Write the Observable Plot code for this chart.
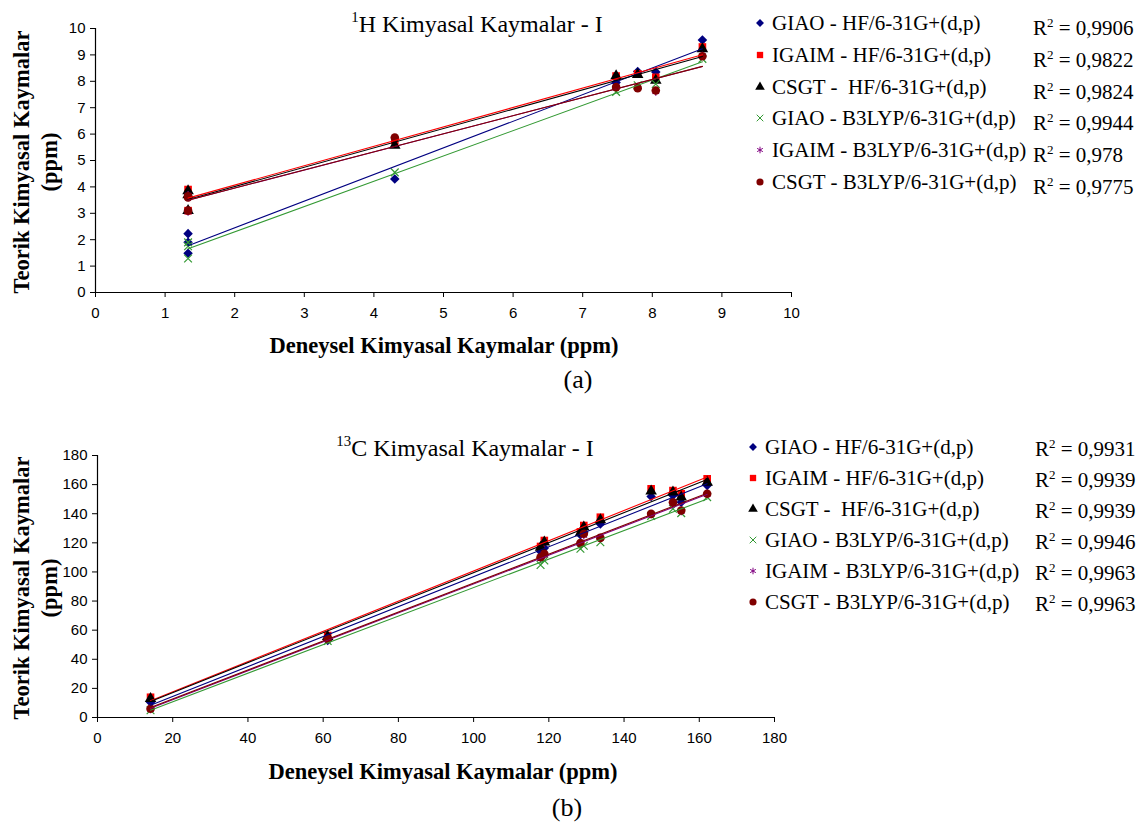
<!DOCTYPE html>
<html><head><meta charset="utf-8">
<script src="https://cdn.jsdelivr.net/npm/d3@7"></script>
<script src="https://cdn.jsdelivr.net/npm/@observablehq/plot@0.6"></script>
<style>
body{margin:0;background:#fff;}
#page{position:relative;width:1145px;height:825px;overflow:hidden;font-family:"Liberation Serif","Times New Roman",serif;color:#000;background:#fff}
.abs{position:absolute;white-space:pre;line-height:1}
.c{transform:translate(-50%,-50%)}
.l{transform:translate(0,-50%)}
.title{font-size:24px}
.axt{font-weight:bold;font-size:22.5px}
.leg{font-size:21px}
.sub{font-size:26px}
.plotbox{position:absolute}
sup{font-size:0.62em;position:relative;top:-0.15em;vertical-align:top;line-height:1}
</style></head>
<body><div id="page"></div>
<script>
// ---- series definitions ----
const seriesNames = ["GIAO - HF/6-31G+(d,p)", "IGAIM - HF/6-31G+(d,p)", "CSGT -  HF/6-31G+(d,p)",
  "GIAO - B3LYP/6-31G+(d,p)", "IGAIM - B3LYP/6-31G+(d,p)", "CSGT - B3LYP/6-31G+(d,p)"];
const seriesColors = ["#000080", "#FF0000", "#000000", "#339933", "#800080", "#800000"];
const seriesSymbols = ["diamond2", "square", "triangle", "times", "asterisk", "circle"];

// ---- 1H data ----
const hExp = [1.33, 1.33, 1.33, 4.30, 7.48, 7.79, 8.05, 8.72];
const hGIAO_HF    = [2.23, 1.90, 1.49, 4.30, 7.95, 8.37, 8.35, 9.56];
const hIGAIM_HF   = [3.90, 3.75, 3.10, 5.75, 8.20, 8.28, 8.15, 9.30];
const hCSGT_HF    = [3.85, 3.70, 3.10, 5.57, 8.20, 8.25, 8.03, 9.23];
const hGIAO_B3    = [1.90, 1.75, 1.29, 4.55, 7.60, 7.85, 7.90, 8.85];
const hIGAIM_B3   = [3.70, 3.60, 3.05, 5.85, 7.80, 7.75, 7.60, 8.97];
const hCSGT_B3    = [3.64, 3.60, 3.10, 5.87, 7.78, 7.74, 7.65, 8.95];
const hR2 = ["0,9906", "0,9822", "0,9824", "0,9944", "0,978", "0,9775"];
const hTicks = [0, 1, 2, 3, 4, 5, 6, 7, 8, 9, 10];

// ---- 13C data ----
const cExp = [14.1, 61.2, 117.8, 118.8, 128.4, 129.3, 133.7, 147.2, 153.0, 155.2, 162.1];
const cGIAO_HF  = [10.5, 52.9, 114.0, 116.5, 125.5, 127.3, 133.0, 151.8, 152.5, 147.9, 159.4];
const cIGAIM_HF = [13.9, 56.3, 117.5, 121.6, 127.5, 131.9, 137.6, 157.1, 155.9, 153.7, 164.0];
const cCSGT_HF  = [13.0, 55.5, 116.8, 120.4, 126.8, 130.8, 135.8, 155.5, 154.8, 151.4, 161.6];
const cGIAO_B3  = [5.0, 52.5, 104.8, 107.9, 115.9, 118.0, 120.4, 138.5, 143.4, 140.4, 151.4];
const cIGAIM_B3 = [5.5, 53.5, 109.0, 111.5, 119.5, 125.0, 123.0, 139.5, 147.0, 141.5, 153.2];
const cCSGT_B3  = [6.0, 54.0, 110.1, 112.5, 119.8, 126.2, 123.4, 139.9, 147.9, 142.2, 153.7];
const cR2 = ["0,9931", "0,9939", "0,9939", "0,9946", "0,9963", "0,9963"];
const cTicks = [0, 20, 40, 60, 80, 100, 120, 140, 160, 180];

const page = document.getElementById("page");
function addDiv(html, x, y, cls) {
  const d = document.createElement("div");
  d.className = "abs " + cls;
  d.style.left = x + "px"; d.style.top = y + "px";
  d.innerHTML = html;
  page.appendChild(d);
  return d;
}
const d3sym = {diamond2: d3.symbolDiamond2, square: d3.symbolSquare, triangle: d3.symbolTriangle,
  times: d3.symbolTimes, asterisk: d3.symbolAsterisk, circle: d3.symbolCircle};
const strokeSym = new Set(["times", "asterisk"]);

function buildTable(xs, ysList) {
  const rows = [];
  ysList.forEach((ys, i) => ys.forEach((y, j) => rows.push({s: i, x: xs[j], y})));
  return rows;
}

function chart(opts) {
  const {rows, domain, ticks, top, left, width, height, mL, mT, mB, mR} = opts;
  const marks = [];
  for (let i = 0; i < 6; i++) {
    const d = rows.filter(r => r.s === i);
    const sym = seriesSymbols[i];
    marks.push(Plot.dot(d, {x: "x", y: "y", symbol: () => sym, r: strokeSym.has(sym) ? 3.6 : 4.3,
      fill: strokeSym.has(sym) ? "none" : seriesColors[i],
      stroke: strokeSym.has(sym) ? seriesColors[i] : "none", strokeWidth: 1.2}));
  }
  for (let i = 0; i < 6; i++) {
    const d = rows.filter(r => r.s === i);
    marks.push(Plot.linearRegressionY(d, {x: "x", y: "y", stroke: seriesColors[i], strokeWidth: 1.1, ci: 0}));
  }
  marks.push(Plot.ruleX([domain[0]], {stroke: "#000", strokeWidth: 1.2}));
  marks.push(Plot.ruleY([domain[0]], {stroke: "#000", strokeWidth: 1.2}));
  marks.push(Plot.axisX({ticks, tickSize: 5, tickPadding: 10, label: null, stroke: "#000"}));
  marks.push(Plot.axisY({ticks, tickSize: 5, tickPadding: 5, label: null, stroke: "#000"}));
  const svg = Plot.plot({
    width, height, marginLeft: mL, marginTop: mT, marginBottom: mB, marginRight: mR,
    x: {domain}, y: {domain},
    symbol: {type: "identity"},
    style: {fontFamily: "'Liberation Sans Narrow','Arial Narrow','Liberation Sans',sans-serif", fontSize: "15px", color: "#000", background: "transparent", overflow: "visible"},
    marks
  });
  const box = document.createElement("div");
  box.className = "plotbox";
  box.style.left = left + "px"; box.style.top = top + "px";
  box.appendChild(svg);
  page.appendChild(box);
}

function legend(y0, step, mx, tx, rx, rdy, r2) {
  for (let i = 0; i < 6; i++) {
    const y = y0 + i * step;
    const sym = seriesSymbols[i];
    const p = d3.symbol(d3sym[sym], strokeSym.has(sym) ? 30 : 40)();
    const ns = "http://www.w3.org/2000/svg";
    const s = document.createElementNS(ns, "svg");
    s.setAttribute("width", 14); s.setAttribute("height", 14);
    s.style.position = "absolute"; s.style.left = (mx - 7) + "px"; s.style.top = (y - 7) + "px";
    const path = document.createElementNS(ns, "path");
    path.setAttribute("d", p); path.setAttribute("transform", "translate(7,7)");
    if (strokeSym.has(sym)) { path.setAttribute("fill", "none"); path.setAttribute("stroke", seriesColors[i]); }
    else { path.setAttribute("fill", seriesColors[i]); }
    s.appendChild(path); page.appendChild(s);
    addDiv(seriesNames[i], tx, y, "leg l");
    addDiv("R<sup>2</sup> = " + r2[i], rx, y + rdy, "leg l");
  }
}

// ---- chart (a) ----
chart({rows: buildTable(hExp, [hGIAO_HF, hIGAIM_HF, hCSGT_HF, hGIAO_B3, hIGAIM_B3, hCSGT_B3]),
  domain: [0, 10], ticks: hTicks, top: 0, left: 0, width: 810, height: 335, mL: 95, mT: 28, mB: 43, mR: 19});
addDiv("<sup>1</sup>H Kimyasal Kaymalar - I", 477, 24, "title c");
addDiv("Teorik Kimyasal Kaymalar", 22, 162, "axt c").style.transform = "translate(-50%,-50%) rotate(-90deg)";
addDiv("(ppm)", 50, 162, "axt c").style.transform = "translate(-50%,-50%) rotate(-90deg)";
addDiv("Deneysel Kimyasal Kaymalar (ppm)", 444, 346, "axt c");
addDiv("(a)", 578, 380, "sub c");
legend(23, 31.8, 760, 772, 1033, 5, hR2);

// ---- chart (b) ----
chart({rows: buildTable(cExp, [cGIAO_HF, cIGAIM_HF, cCSGT_HF, cGIAO_B3, cIGAIM_B3, cCSGT_B3]),
  domain: [0, 180], ticks: cTicks, top: 427, left: 0, width: 790, height: 333, mL: 97, mT: 28, mB: 43, mR: 16});
addDiv("<sup>13</sup>C Kimyasal Kaymalar - I", 465, 448, "title c");
addDiv("Teorik Kimyasal Kaymalar", 22, 588, "axt c").style.transform = "translate(-50%,-50%) rotate(-90deg)";
addDiv("(ppm)", 50, 588, "axt c").style.transform = "translate(-50%,-50%) rotate(-90deg)";
addDiv("Deneysel Kimyasal Kaymalar (ppm)", 443, 772, "axt c");
addDiv("(b)", 567, 808, "sub c");
legend(447, 31, 753, 765, 1035, 2, cR2);
</script></body></html>
